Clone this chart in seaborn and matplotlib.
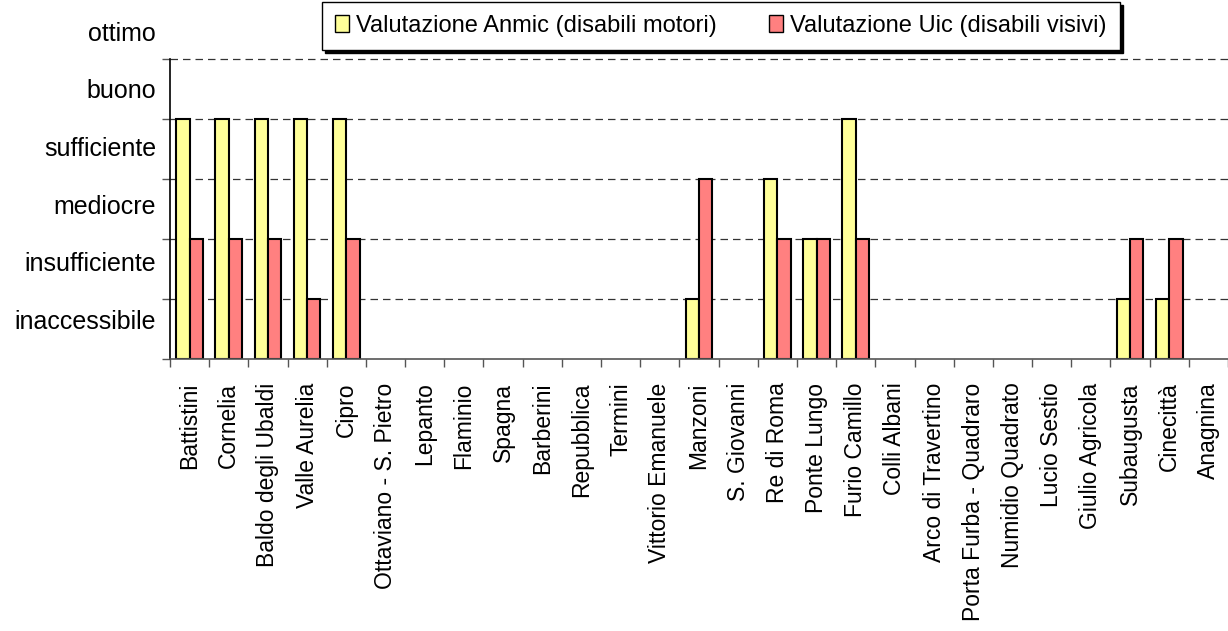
import numpy as np
import pandas as pd
import matplotlib
matplotlib.use('Agg')
import matplotlib.pyplot as plt
import seaborn as sns
from matplotlib.patches import Patch

stazioni = ['Battistini', 'Cornelia', 'Baldo degli Ubaldi', 'Valle Aurelia', 'Cipro',
            'Ottaviano - S. Pietro', 'Lepanto', 'Flaminio', 'Spagna', 'Barberini',
            'Repubblica', 'Termini', 'Vittorio Emanuele', 'Manzoni', 'S. Giovanni',
            'Re di Roma', 'Ponte Lungo', 'Furio Camillo', 'Colli Albani', 'Arco di Travertino',
            'Porta Furba - Quadraro', 'Numidio Quadrato', 'Lucio Sestio', 'Giulio Agricola',
            'Subaugusta', 'Cinecittà', 'Anagnina']
# None = stazione non valutata
anmic = [4, 4, 4, 4, 4, None, None, None, None, None, None, None, None, 1, None,
         3, 2, 4, None, None, None, None, None, None, 1, 1, None]
uic = [2, 2, 2, 1, 2, None, None, None, None, None, None, None, None, 3, None,
       2, 2, 2, None, None, None, None, None, None, 2, 2, None]
serie = ['Valutazione Anmic (disabili motori)', 'Valutazione Uic (disabili visivi)']
livelli = ['inaccessibile', 'insufficiente', 'mediocre', 'sufficiente', 'buono', 'ottimo']
colori = ['#FFFF99', '#FF8080']

df = pd.DataFrame({
    'stazione': stazioni * 2,
    'valore': pd.array(anmic + uic, dtype='float'),
    'serie': [serie[0]] * len(stazioni) + [serie[1]] * len(stazioni),
})

sns.set_style('white')
plt.rcParams['font.family'] = ['Liberation Sans', 'DejaVu Sans']
plt.rcParams['text.color'] = 'black'
plt.rcParams['xtick.color'] = 'black'
plt.rcParams['ytick.color'] = 'black'

fig = plt.figure(figsize=(12.28, 6.31), dpi=100)
ax = fig.add_axes([170 / 1228, (631 - 359) / 631, 1 - 170 / 1228, 359 / 631])

sns.barplot(data=df, x='stazione', y='valore', hue='serie', hue_order=serie,
            order=stazioni, ax=ax, palette=colori, saturation=1,
            edgecolor='black', linewidth=1.5, width=0.68, legend=False)

n = len(stazioni)
ax.set_xlim(-0.5, n - 0.5)
ax.set_ylim(0, 359 / 60)
ax.set_xlabel('')
ax.set_ylabel('')

# griglia tratteggiata sui livelli
for y in range(1, 6):
    ax.axhline(y, color='#333333', linestyle=(0, (6, 4)), linewidth=0.9, zorder=0)

ax.set_xticks(range(n))
ax.set_xticklabels(stazioni, rotation=90, fontsize=16.5)
ax.set_xticks(np.arange(n + 1) - 0.5, minor=True)
ax.tick_params(axis='x', which='major', length=0, pad=17, labelcolor='black')
ax.tick_params(axis='x', which='minor', length=6, width=1, color='#555555', direction='out', bottom=True)

ax.set_yticks(np.arange(6) * 0.96 + 0.66)
ax.set_yticklabels(livelli, fontsize=18)
ax.tick_params(axis='y', which='major', length=0, pad=10, labelcolor='black')
ax.set_yticks(np.arange(0, 6), minor=True)
ax.tick_params(axis='y', which='minor', length=6, width=1, color='#555555', direction='out', left=True)

for s in ['top', 'right']:
    ax.spines[s].set_visible(False)
ax.spines['left'].set_bounds(0, 5)
ax.spines['left'].set_color('black')
ax.spines['left'].set_linewidth(1.2)
ax.spines['bottom'].set_color('#555555')
ax.spines['bottom'].set_linewidth(1.2)

handles = [Patch(facecolor=c, edgecolor='black') for c in colori]
leg = fig.legend(handles, serie, loc='center', bbox_to_anchor=(721 / 1228, 1 - 26 / 631),
                 ncol=2, fontsize=17, frameon=True, fancybox=False, handlelength=0.6,
                 handleheight=0.7, handletextpad=0.3, columnspacing=2.2,
                 shadow={'color': 'black', 'alpha': 1}, borderpad=0.55, borderaxespad=0)
leg.get_frame().set_edgecolor('black')
leg.get_frame().set_linewidth(1)
leg.get_frame().set_alpha(1)
for t in leg.get_texts():
    t.set_color('black')

plt.savefig('out.png', dpi=100)
